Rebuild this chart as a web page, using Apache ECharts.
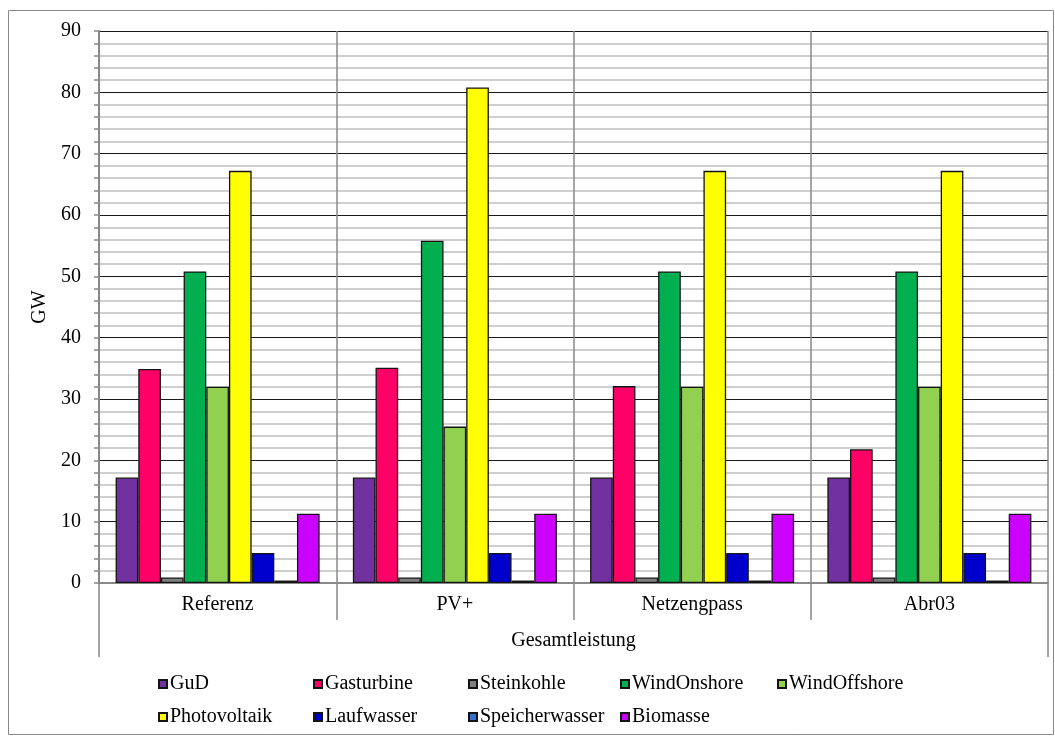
<!DOCTYPE html>
<html>
<head>
<meta charset="utf-8">
<script src="https://cdn.jsdelivr.net/npm/echarts@6/dist/echarts.min.js"></script>
<style>
  html, body { margin: 0; padding: 0; background: #fff; }
  #chart { width: 1055px; height: 736px; }
</style>
</head>
<body>
<div id="chart"></div>
<script>
// Installed capacity per scenario (GW)
const scenarios = ['Referenz', 'PV+', 'Netzengpass', 'Abr03'];
const groupLabel = ['Gesamtleistung'];
const yTicks = { min: 0, max: 90, interval: 10 };

const technologies = ['GuD', 'Gasturbine', 'Steinkohle', 'WindOnshore', 'WindOffshore',
                      'Photovoltaik', 'Laufwasser', 'Speicherwasser', 'Biomasse'];

const GuD            = [17.2, 17.2, 17.2, 17.2];
const Gasturbine     = [34.9, 35.1, 32.1, 21.8];
const Steinkohle     = [0.9, 0.9, 0.9, 0.9];
const WindOnshore    = [50.8, 55.8, 50.8, 50.8];
const WindOffshore   = [32.0, 25.5, 32.0, 32.0];
const Photovoltaik   = [67.2, 80.8, 67.2, 67.2];
const Laufwasser     = [4.9, 4.9, 4.9, 4.9];
const Speicherwasser = [0.4, 0.4, 0.4, 0.4];
const Biomasse       = [11.3, 11.3, 11.3, 11.3];

const values = [GuD, Gasturbine, Steinkohle, WindOnshore, WindOffshore,
                Photovoltaik, Laufwasser, Speicherwasser, Biomasse];

const colors = ['#7030a0', '#ff0066', '#808080', '#00b050', '#92d050',
                '#ffff00', '#0000cc', '#3a6fd0', '#cc00ff'];

const FONT = 'Liberation Serif';
const txt = { fontFamily: FONT, fontSize: 20, color: '#000' };

// legend laid out in two rows with fixed columns
const legendCols = [158, 313, 468, 620, 777];
const legendRows = [674, 707];
const legends = technologies.map((name, i) => ({
  show: true,
  data: [name],
  left: legendCols[i < 5 ? i : i - 5],
  top: legendRows[i < 5 ? 0 : 1],
  icon: 'rect',
  itemWidth: 8,
  itemHeight: 8,
  itemGap: 0,
  padding: 0,
  selectedMode: false,
  textStyle: Object.assign({}, txt, { padding: [0, 0, 0, -2] })
}));

const series = technologies.map((name, i) => ({
  name: name,
  type: 'bar',
  xAxisIndex: 0,
  data: values[i],
  barGap: '0%',
  barCategoryGap: '14%',
  itemStyle: { color: colors[i], borderColor: '#141414', borderWidth: 1.3 },
  emphasis: { disabled: true },
  silent: true
}));

const chart = echarts.init(document.getElementById('chart'), null, { renderer: 'canvas' });
chart.setOption({
  animation: false,
  backgroundColor: '#fff',
  textStyle: { fontFamily: FONT },
  graphic: [{
    type: 'rect',
    shape: { x: 8.5, y: 10.5, width: 1045, height: 724 },
    style: { fill: 'none', stroke: '#888', lineWidth: 1 },
    silent: true,
    z: -10
  }],
  grid: { left: 99, top: 31, right: 7, bottom: 153, containLabel: false },
  legend: legends,
  xAxis: [{
    type: 'category',
    data: scenarios,
    position: 'bottom',
    axisLine: { show: true, lineStyle: { color: '#888', width: 2 } },
    axisTick: { show: true, interval: 0, length: 37, lineStyle: { color: '#888', width: 1.5 } },
    axisLabel: Object.assign({ margin: 12, interval: 0 }, txt),
    splitLine: { show: true, interval: 0, lineStyle: { color: '#888', width: 1.5 } }
  }, {
    type: 'category',
    data: groupLabel,
    position: 'bottom',
    offset: 0,
    axisLine: { show: false },
    axisTick: { show: true, length: 74, lineStyle: { color: '#888', width: 1.5 } },
    axisLabel: Object.assign({ margin: 48 }, txt),
    splitLine: { show: false }
  }],
  yAxis: {
    type: 'value',
    min: yTicks.min,
    max: yTicks.max,
    interval: yTicks.interval,
    name: 'GW',
    nameLocation: 'middle',
    nameGap: 47,
    nameRotate: 90,
    nameTextStyle: txt,
    axisLine: { show: true, lineStyle: { color: '#888', width: 2 } },
    axisTick: { show: true, length: 5, lineStyle: { color: '#888', width: 1.5 } },
    minorTick: { show: true, splitNumber: 5, length: 5, lineStyle: { color: '#888', width: 1.5 } },
    axisLabel: Object.assign({ margin: 18 }, txt),
    splitLine: { show: true, lineStyle: { color: '#1a1a1a', width: 1.2 } },
    minorSplitLine: { show: true, lineStyle: { color: '#c0c0c0', width: 1.5 } }
  },
  series: series
});
</script>
</body>
</html>
